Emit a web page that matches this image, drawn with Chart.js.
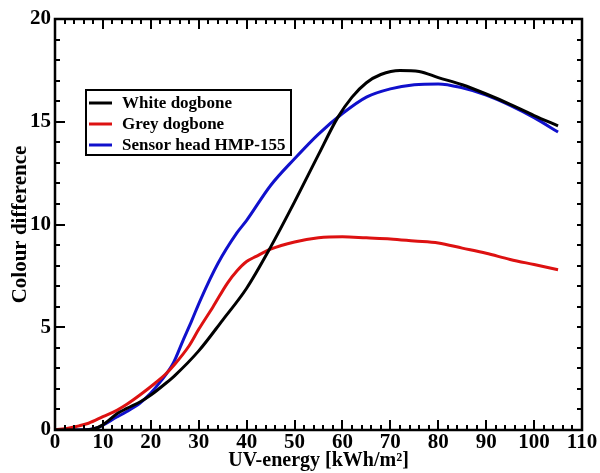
<!DOCTYPE html>
<html>
<head>
<meta charset="utf-8">
<script src="https://cdn.jsdelivr.net/npm/chart.js@4/dist/chart.umd.min.js"></script>
<style>
html,body{margin:0;padding:0;background:#fff;}
#wrap{width:600px;height:473px;position:relative;}
</style>
</head>
<body>
<div id="wrap"><canvas id="c" width="600" height="473"></canvas></div>
<script>
// ---- data ----
const seriesNames = ["White dogbone", "Grey dogbone", "Sensor head HMP-155"];
const whiteX = [0, 5, 8, 10, 13, 15, 18, 20, 23, 25, 30, 35, 40, 45, 50, 55, 59, 62, 65, 68, 72, 76, 80, 85, 90, 95, 100, 105];
const whiteY = [0, 0, 0.05, 0.25, 0.8, 1.05, 1.4, 1.7, 2.25, 2.65, 3.85, 5.35, 6.9, 8.9, 11.1, 13.4, 15.2, 16.2, 16.9, 17.3, 17.5, 17.45, 17.15, 16.8, 16.35, 15.85, 15.3, 14.8];
const greyX = [0, 3, 5, 7, 10, 13, 15, 18, 21, 23, 25, 28, 30, 33, 36, 38, 40, 42, 45, 50, 55, 60, 65, 70, 75, 80, 85, 90, 95, 100, 105];
const greyY = [0, 0.1, 0.2, 0.33, 0.65, 0.97, 1.25, 1.75, 2.3, 2.7, 3.2, 4.1, 4.9, 6.0, 7.15, 7.75, 8.2, 8.45, 8.8, 9.15, 9.35, 9.4, 9.35, 9.3, 9.2, 9.1, 8.85, 8.6, 8.3, 8.05, 7.8];
const sensorX = [0, 5, 8.7, 12.9, 15, 17.7, 20, 22, 24.7, 26.8, 28.5, 30.3, 34, 38, 40, 45, 50, 55, 60, 65, 70, 75, 80, 85, 90, 95, 100, 105];
const sensorY = [0, 0, 0.1, 0.63, 0.9, 1.3, 1.8, 2.35, 3.26, 4.4, 5.3, 6.3, 8.1, 9.6, 10.2, 11.9, 13.2, 14.4, 15.4, 16.2, 16.6, 16.8, 16.84, 16.65, 16.3, 15.8, 15.2, 14.5];
const xTicks = [0, 10, 20, 30, 40, 50, 60, 70, 80, 90, 100, 110];
const yTicks = [0, 5, 10, 15, 20];

const colors = ["#000000", "#dd1111", "#1010cc"];
const toPts = (xs, ys) => xs.map((x, i) => ({x: x, y: ys[i]}));

const FONT = "'Liberation Serif', 'Times New Roman', serif";

const frameTicks = {
  id: 'frameTicks',
  afterDatasetsDraw(chart) {
    const {ctx, chartArea: a, scales: {x, y}} = chart;
    ctx.save();
    ctx.strokeStyle = '#000';
    ctx.lineWidth = 2;
    ctx.beginPath();
    for (let v = 0; v <= 110; v += 2) {
      const px = Math.round(x.getPixelForValue(v));
      const len = v % 10 === 0 ? 10 : 5;
      ctx.moveTo(px, a.bottom); ctx.lineTo(px, a.bottom - len);
      ctx.moveTo(px, a.top); ctx.lineTo(px, a.top + len);
    }
    for (let v = 0; v <= 20; v += 1) {
      const py = Math.round(y.getPixelForValue(v));
      const len = v % 5 === 0 ? 10 : 5;
      ctx.moveTo(a.left, py); ctx.lineTo(a.left + len, py);
      ctx.moveTo(a.right, py); ctx.lineTo(a.right - 5, py);
    }
    ctx.stroke();
    ctx.lineWidth = 2.5;
    ctx.strokeRect(a.left, a.top, a.right - a.left, a.bottom - a.top);
    ctx.restore();
  }
};

const boxLegend = {
  id: 'boxLegend',
  afterDraw(chart) {
    const ctx = chart.ctx;
    const L = 86, T = 90, R = 291, B = 155;
    ctx.save();
    ctx.fillStyle = '#fff';
    ctx.fillRect(L, T, R - L, B - T);
    ctx.strokeStyle = '#000';
    ctx.lineWidth = 2;
    ctx.strokeRect(L, T, R - L, B - T);
    ctx.font = "bold 17px " + FONT;
    ctx.textBaseline = 'middle';
    ctx.textAlign = 'left';
    chart.data.datasets.forEach((ds, i) => {
      const cy = 103 + i * 21;
      ctx.strokeStyle = ds.borderColor;
      ctx.lineWidth = 3;
      ctx.beginPath();
      ctx.moveTo(89, cy); ctx.lineTo(112, cy);
      ctx.stroke();
      ctx.fillStyle = '#000';
      ctx.fillText(ds.label, 122, cy + 1);
    });
    ctx.restore();
  }
};

new Chart(document.getElementById('c'), {
  type: 'line',
  data: {
    datasets: [
      {label: seriesNames[0], data: toPts(whiteX, whiteY), borderColor: colors[0]},
      {label: seriesNames[1], data: toPts(greyX, greyY), borderColor: colors[1]},
      {label: seriesNames[2], data: toPts(sensorX, sensorY), borderColor: colors[2]}
    ].map(d => Object.assign(d, {borderWidth: 3, pointRadius: 0, fill: false, cubicInterpolationMode: 'monotone'}))
  },
  options: {
    responsive: false,
    animation: false,
    layout: {padding: {top: 19, right: 18, left: 0, bottom: 0}},
    plugins: {legend: {display: false}, tooltip: {enabled: false}},
    scales: {
      x: {
        type: 'linear', min: 0, max: 110,
        afterBuildTicks: s => { s.ticks = xTicks.map(v => ({value: v})); },
        afterFit: s => { s.height = 43; },
        grid: {display: false, drawTicks: false},
        border: {display: false},
        ticks: {color: '#000', padding: 0, maxRotation: 0, autoSkip: false, font: {family: FONT, size: 21, weight: 'bold'}},
        title: {display: true, text: 'UV-energy [kWh/m²]', color: '#000', padding: 0, font: {family: FONT, size: 20, weight: 'bold'}}
      },
      y: {
        type: 'linear', min: 0, max: 20,
        afterBuildTicks: s => { s.ticks = yTicks.map(v => ({value: v})); },
        afterFit: s => { s.width = 55; },
        grid: {display: false, drawTicks: false},
        border: {display: false},
        ticks: {color: '#000', padding: 4, autoSkip: false, font: {family: FONT, size: 21, weight: 'bold'}},
        title: {display: true, text: 'Colour difference', color: '#000', padding: {top: 8, bottom: 0}, font: {family: FONT, size: 21, weight: 'bold'}}
      }
    }
  },
  plugins: [frameTicks, boxLegend]
});
</script>
</body>
</html>
